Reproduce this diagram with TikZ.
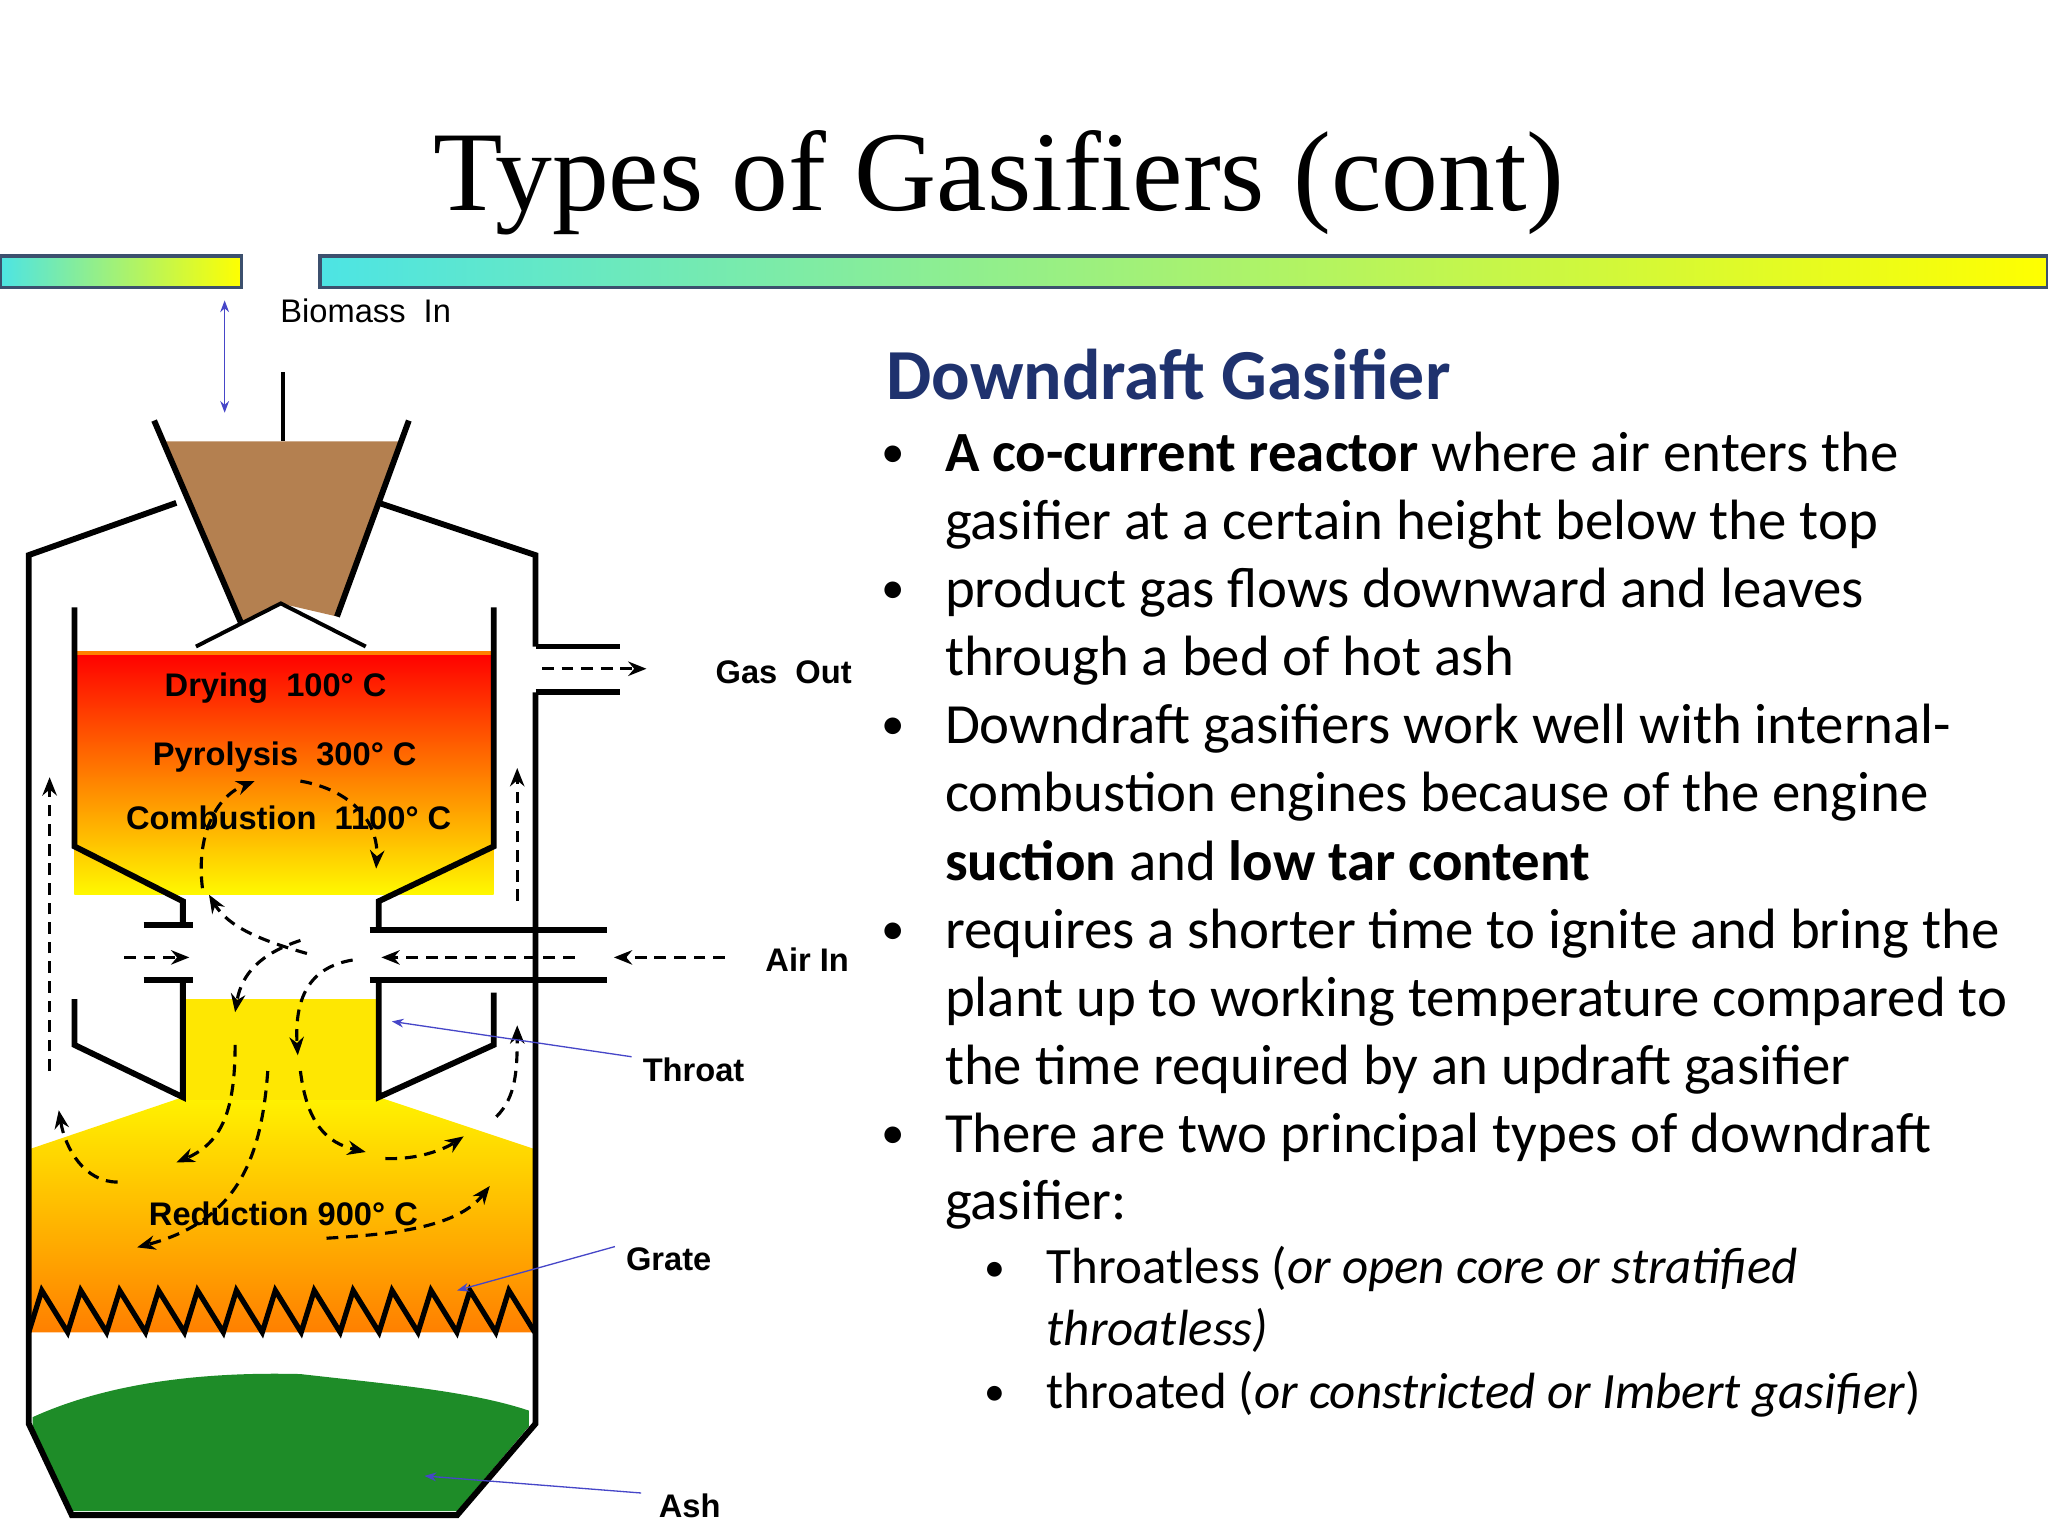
\documentclass[tikz,border=0pt]{standalone}
\usepackage{fontspec}
\setmainfont{Carlito}
\newfontfamily\titlefont{Liberation Serif}
\newfontfamily\labfont{Liberation Sans}
\usetikzlibrary{arrows.meta}
\definecolor{headblue}{RGB}{31,50,110}
\definecolor{barborder}{RGB}{60,80,110}
\definecolor{sand}{RGB}{180,128,80}
\definecolor{ashgreen}{RGB}{30,140,40}
\begin{document}
\begin{tikzpicture}[x=1pt,y=-1pt,
  wall/.style={line width=4.5pt,line join=miter},
  flow/.style={dash pattern=on 9pt off 6pt,line width=2.4pt,-{Stealth[length=14pt,width=11pt]}},
  pointer/.style={draw={rgb,255:red,70;green,70;blue,200},line width=1pt,-{Stealth[length=9pt]}},
  lab/.style={font=\labfont\bfseries\fontsize{25}{28}\selectfont,anchor=base},
  body/.style={anchor=base west,font=\fontsize{43.5}{50}\selectfont},
  sub/.style={anchor=base west,font=\fontsize{39}{46}\selectfont}]
\useasboundingbox (0,0) rectangle (1568,1176);
\fill[white] (0,0) rectangle (1568,1176);
% title and bars
\node[font=\titlefont\fontsize{87}{95}\selectfont] (title) at (765,140) {Types of Gasifiers (cont)};
\shade[left color=cyan!70!teal!70, right color=yellow, draw=barborder, line width=2.5pt] (0,196) rectangle (185,220);
\shade[left color=cyan!70!teal!70, right color=yellow, draw=barborder, line width=2.5pt] (245,196) rectangle (1568,220);
% text
\node[anchor=base west,font=\bfseries\fontsize{55}{60}\selectfont,text=headblue] (head) at (675,306) {Downdraft Gasifier};
\foreach \y in {358,462,566,723,879} \node[anchor=base,font=\fontsize{36}{40}\selectfont] at (684,\y) {•};
\foreach \y in {981,1076} \node[anchor=base,font=\fontsize{32}{40}\selectfont] at (762,\y) {•};
\node[body] at (720,361) {\textbf{A co-current reactor} where air enters the};
\node[body] at (720,413) {gasifier at a certain height below the top};
\node[body] at (720,465) {product gas flows downward and leaves};
\node[body] at (720,517) {through a bed of hot ash};
\node[body] at (720,569) {Downdraft gasifiers work well with internal-};
\node[body] at (720,621) {combustion engines because of the engine};
\node[body] at (720,674) {\textbf{suction} and \textbf{low tar content}};
\node[body] at (720,726) {requires a shorter time to ignite and bring the};
\node[body] at (720,778) {plant up to working temperature compared to};
\node[body] at (720,830) {the time required by an updraft gasifier};
\node[body] at (720,882) {There are two principal types of downdraft};
\node[body] at (720,934) {gasifier:};
\node[sub] at (798,983) {Throatless (\textit{or open core or stratified}};
\node[sub] at (798,1030) {\textit{throatless)}};
\node[sub] at (798,1078) {throated (\textit{or constricted or Imbert gasifier})};
% ---- diagram fills
\shade[top color=red, bottom color=yellow!95!orange] (57,500) rectangle (378,685);
\draw[orange,line width=3pt] (57,500) -- (378,500);
\shade[top color=yellow!90!orange, bottom color=orange] (140,840) -- (290,840) -- (410,880) -- (410,1020) -- (22,1020) -- (22,880) -- cycle;
\fill[yellow!90!orange] (140,765) rectangle (290,842);
\fill[ashgreen] (25,1085) .. controls (80,1060) and (150,1050) .. (230,1052) .. controls (300,1060) and (360,1065) .. (405,1080) -- (405,1092) -- (350,1157) -- (55,1157) -- (25,1092) -- cycle;
% hopper
\fill[sand] (125,338) -- (306,338) -- (258,472) -- (215,462) -- (185,478) -- cycle;
\draw[wall] (118,322) -- (185,478);
\draw[wall] (313,322) -- (258,472);
\draw[line width=3pt] (150,495) -- (215,462) -- (280,495);
\draw[line width=3pt] (217,285) -- (217,338);
% outer vessel
\draw[wall] (135,385) -- (22,425) -- (22,1090) -- (55,1160) -- (350,1160) -- (410,1090) -- (410,530);
\draw[wall] (410,495) -- (410,425) -- (290,385);
\draw[wall] (410,495) -- (475,495);
\draw[wall] (410,530) -- (475,530);
% inner walls
\draw[wall] (57,465) -- (57,648) -- (140,690) -- (140,708);
\draw[wall] (110,708) -- (148,708);
\draw[wall] (110,750) -- (148,750);
\draw[wall] (140,750) -- (140,840) -- (57,800) -- (57,765);
\draw[wall] (378,465) -- (378,648) -- (290,690) -- (290,712);
\draw[wall] (283,712) -- (465,712);
\draw[wall] (283,750) -- (465,750);
\draw[wall] (290,750) -- (290,840) -- (378,800) -- (378,760);
% grate
\draw[line width=4pt] (22,1020) \foreach \i in {0,...,12} { -- ++(10,-32) -- ++(19.8,32) } ;
% flows
\draw[flow] (415,512) -- (495,512);
\draw[flow] (555,733) -- (470,733);
\draw[flow] (440,733) -- (292,733);
\draw[flow] (95,733) -- (145,733);
\draw[flow] (38,820) -- (38,595);
\draw[flow] (396,690) -- (396,588);
\draw[flow] (380,855) .. controls (395,840) and (396,820) .. (396,785);
\draw[flow] (155,680) .. controls (150,640) and (165,610) .. (195,598);
\draw[flow] (230,598) .. controls (270,605) and (290,630) .. (288,665);
\draw[flow] (235,730) .. controls (200,720) and (175,710) .. (160,685);
\draw[flow] (270,735) .. controls (240,740) and (225,760) .. (228,808);
\draw[flow] (230,720) .. controls (200,730) and (185,745) .. (180,775);
\draw[flow] (180,800) .. controls (180,850) and (170,875) .. (135,890);
\draw[flow] (205,820) .. controls (200,890) and (180,935) .. (105,955);
\draw[flow] (230,820) .. controls (235,860) and (250,875) .. (280,882);
\draw[flow] (295,887) .. controls (320,888) and (340,880) .. (355,870);
\draw[flow] (90,905) .. controls (65,905) and (50,880) .. (45,850);
\draw[flow] (250,948) .. controls (300,945) and (350,940) .. (375,908);
% labels
\node[lab] (bio) at (280,247) {\mdseries Biomass\ \ In};
\coordinate (bt) at (172,230); \coordinate (bb) at (172,316);
\draw[pointer,{Stealth[length=9pt]}-{Stealth[length=9pt]}] (bt) -- (bb);
\node[lab] at (211,533) {Drying\ \ 100° C};
\node[lab] at (218,586) {Pyrolysis\ \ 300° C};
\node[lab] at (221,635) {Combustion\ \ 1100° C};
\node[lab] at (217,938) {Reduction 900° C};
\node[lab] (gas) at (600,523) {Gas\ \ Out};
\node[lab] (air) at (618,744) {Air In};
\node[lab] (throat) at (531,828) {Throat};
\node[lab] (grate) at (512,973) {Grate};
\node[lab] (ash) at (528,1162) {Ash};
\coordinate (tp) at (300,782); \coordinate (gp) at (350,988); \coordinate (ap) at (325,1130);
\draw[pointer] (throat.west) ++(-5,-10) -- (tp);
\draw[pointer] (grate.west) ++(-5,-10) -- (gp);
\draw[pointer] (ash.west) ++(-10,-10) -- (ap);
\end{tikzpicture}
\end{document}
